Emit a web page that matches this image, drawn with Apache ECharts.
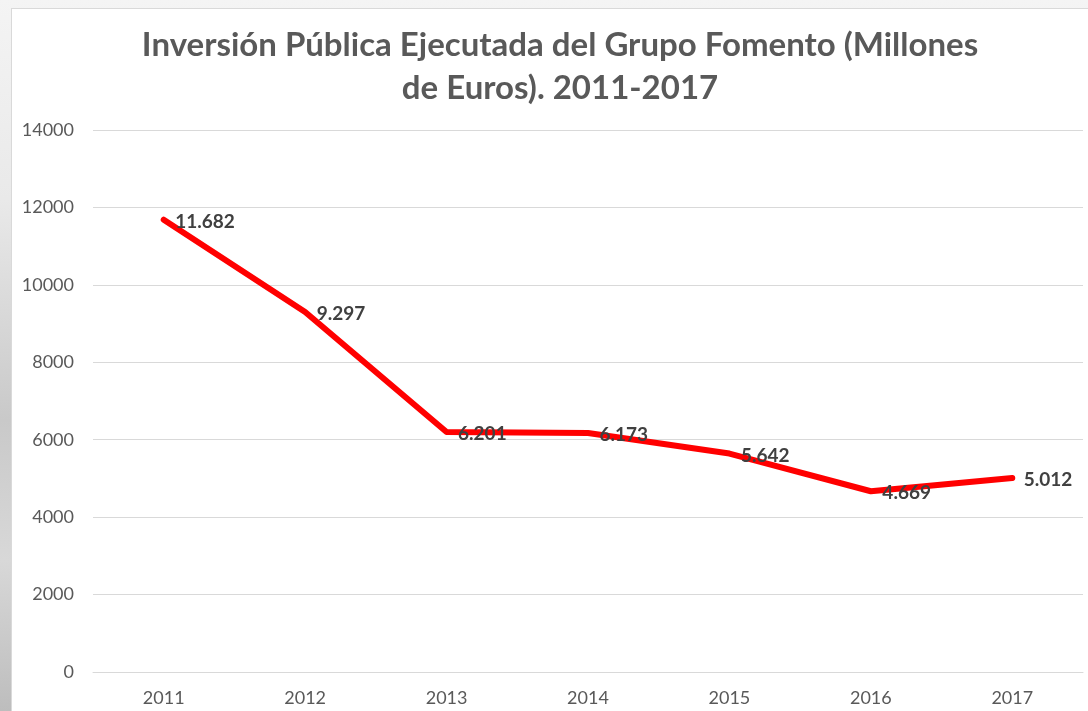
<!DOCTYPE html>
<html>
<head>
<meta charset="utf-8">
<script src="https://cdn.jsdelivr.net/npm/echarts@6/dist/echarts.min.js"></script>
<style>
  html, body { margin: 0; padding: 0; }
  body {
    width: 1088px;
    height: 711px;
    overflow: hidden;
    background: linear-gradient(180deg, #f4f4f4 0px, #e9e9e9 200px, #c9c9c9 420px, #d8d8d8 560px, #bdbdbd 711px);
    position: relative;
  }
  .panel {
    position: absolute;
    left: 11px;
    top: 8px;
    width: 1077px;
    height: 703px;
    background: #fff;
    border-left: 1px solid #d9d9d9;
    border-top: 1px solid #d9d9d9;
    box-sizing: border-box;
  }
  #chart {
    position: absolute;
    left: 0;
    top: 0;
    width: 1088px;
    height: 711px;
  }
</style>
</head>
<body>
<div class="panel"></div>
<div id="chart"></div>
<script>
const years = ['2011', '2012', '2013', '2014', '2015', '2016', '2017'];
const inversion = [11682, 9297, 6201, 6173, 5642, 4669, 5012];
const titleLines = [
  'Inversión Pública Ejecutada del Grupo Fomento (Millones',
  'de Euros). 2011-2017'
];

// 11682 -> "11.682"
function miles(v) {
  return String(v).replace(/\B(?=(\d{3})+(?!\d))/g, '.');
}

const titleStyle = {
  fontFamily: 'Lato',
  fontWeight: 'bold',
  fontSize: 33,
  color: '#595959'
};

const chart = echarts.init(document.getElementById('chart'));

chart.setOption({
  backgroundColor: 'transparent',
  animation: false,
  title: titleLines.map((t, i) => ({
    text: t,
    left: 560,
    textAlign: 'center',
    top: 29 + i * 43,
    padding: 0,
    textStyle: titleStyle
  })),
  grid: {
    left: 93,
    right: 5,
    top: 130,
    bottom: 39
  },
  xAxis: {
    type: 'category',
    data: years,
    boundaryGap: true,
    axisLine: { lineStyle: { color: '#d9d9d9', width: 1 } },
    axisTick: { show: false },
    axisLabel: {
      color: '#595959',
      fontFamily: 'Lato',
      fontSize: 18,
      margin: 17
    }
  },
  yAxis: {
    type: 'value',
    min: 0,
    max: 14000,
    interval: 2000,
    axisLine: { show: false },
    axisTick: { show: false },
    splitLine: { lineStyle: { color: '#d9d9d9', width: 1 } },
    axisLabel: {
      color: '#595959',
      fontFamily: 'Lato',
      fontSize: 18,
      margin: 19,
      formatter: (v) => String(v)
    }
  },
  series: [
    {
      type: 'line',
      data: inversion,
      symbol: 'circle',
      symbolSize: 1,
      itemStyle: { color: '#ff0000' },
      lineStyle: { color: '#ff0000', width: 6, cap: 'round', join: 'round' },
      label: {
        show: true,
        position: 'right',
        distance: 11,
        offset: [0, 2],
        formatter: (p) => miles(p.value),
        color: '#404040',
        fontFamily: 'Lato',
        fontWeight: 'bold',
        fontSize: 19
      }
    }
  ]
});
</script>
</body>
</html>
